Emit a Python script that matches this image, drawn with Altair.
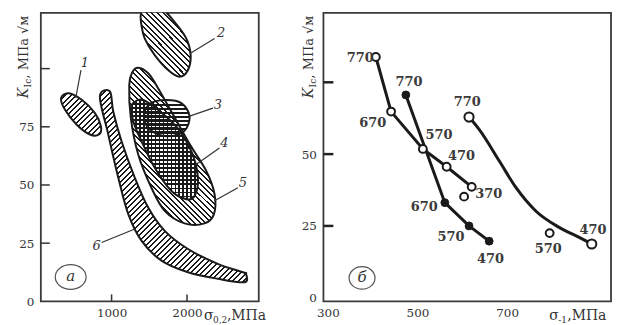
import math
import altair as alt
import pandas as pd

# ---------------- panel "а": K_Ic vs sigma_0.2 regions ----------------
S1_X = [330, 428, 604, 779, 859, 832, 713, 538, 383]
S1_Y = [87.3, 89.4, 86.6, 80.9, 75.2, 71.7, 71.7, 75.9, 82.3]

S2_X = [1387, 1440, 1661, 1836, 1991, 2048, 2013, 1902, 1749, 1572, 1440, 1396]
S2_Y = [122.9, 125.7, 125.7, 120.0, 112.9, 105.8, 99.4, 96.5, 99.4, 105.8, 112.9, 118.6]

S3_X = [1704, 1925, 2034, 1960, 1727, 1506, 1431, 1506]
S3_Y = [86.5, 85.2, 79.5, 73.1, 70.9, 73.8, 79.5, 84.8]

S4_X = [1287, 1440, 1836, 2057, 2145, 2100, 1991, 1793, 1572, 1396, 1287, 1264]
S4_Y = [85.2, 86.2, 75.9, 64.5, 53.1, 45.3, 43.9, 47.4, 57.4, 68.8, 77.4, 83.0]

S5_X = [1353, 1485, 1617, 2013, 2255, 2365, 2357, 2232, 1968, 1704, 1528, 1353, 1255, 1234, 1273]
S5_Y = [100.4, 98.0, 91.6, 68.8, 56.0, 46.0, 37.5, 33.5, 33.5, 38.9, 48.8, 63.1, 78.8, 93.0, 98.4]

S6_X = [845, 956, 1089, 1221, 1396, 1661, 2013, 2408, 2761, 2783,
        2740, 2408, 2013, 1704, 1485, 1308, 1132, 1022, 978]
S6_Y = [88.0, 71.7, 53.1, 37.5, 26.1, 17.5, 12.5, 9.7, 8.2, 11.8,
        12.5, 16.1, 22.5, 30.3, 40.3, 53.1, 68.8, 81.6, 90.2]

REGION_NAMES = ["1", "2", "3", "4", "5", "6"]
NAME_X = [647, 2453, 2409, 2496, 2740, 802]
NAME_Y = [102.3, 115.1, 84.5, 68.1, 51.0, 23.9]
LEAD_X1 = [594, 2365, 2343, 2430, 2674, 868]
LEAD_Y1 = [99.4, 112.9, 83.0, 65.9, 48.8, 25.3]
LEAD_X2 = [524, 2040, 2025, 2120, 2365, 1300]
LEAD_Y2 = [87.3, 106.5, 79.5, 58.8, 43.2, 31.0]

A_YTICK_LABELS = [0, 25, 50, 75]
A_YTICKS = [25, 50, 75, 100]
A_XTICKS = [1000, 2000]

# ---------------- panel "б": K_Ic vs sigma_-1 ----------------
L1_T = [770, 670, 570, 470, 370]
L1_S = [407, 441, 512, 565, 621]
L1_K = [83.8, 64.8, 51.8, 45.6, 38.6]

L2_T = [770, 670, 570, 470]
L2_S = [474, 561, 615, 660]
L2_K = [70.6, 33.1, 25.0, 19.7]

L3_S = [615, 638, 683, 720, 764, 816, 861, 889]
L3_K = [62.9, 58.5, 47.5, 38.3, 30.2, 24.5, 21.0, 18.7]
L3_T = [770, 470]
L3_PS = [615, 889]
L3_PK = [62.9, 18.7]

SOLO_T = [370, 570]
SOLO_S = [604, 795]
SOLO_K = [35.2, 22.5]

LAB_T = ["770", "670", "570", "470", "370", "770", "670", "570", "470", "770", "470", "570"]
LAB_S = [372, 400, 548, 598, 659, 481, 515, 575, 663, 611, 892, 792]
LAB_K = [83.3, 60.8, 56.5, 49.3, 36.2, 75.0, 31.7, 21.2, 13.5, 68.3, 23.6, 17.0]

B_YTICK_LABELS = [0, 25, 50]
B_YTICKS = [25, 50, 75]
B_XLABELS = [300, 500, 700]

# ---------------- layout / style ----------------
WA, WB, H = 219, 289, 290
XA_DOM, YA_DOM = [62, 2951], [0, 124]
XB_DOM, YB_DOM = [290, 932], [-1.25, 99.2]
SERIF = "DejaVu Serif"
INK = "#1a1a1a"
TXT = "#333333"

XA = alt.Scale(domain=XA_DOM, nice=False, zero=False)
YA = alt.Scale(domain=YA_DOM, nice=False, zero=False)
XB = alt.Scale(domain=XB_DOM, nice=False, zero=False)
YB = alt.Scale(domain=YB_DOM, nice=False, zero=False)

def lab_axis(values, pad):
    return alt.Axis(values=values, format="d", ticks=False, domain=False, grid=False, title=None,
                    labelFont=SERIF, labelFontSize=12, labelColor=TXT,
                    labelPadding=pad, labelFlush=False, labelOverlap=False)

AXA_X = lab_axis(A_XTICKS, 6)
AXA_Y = lab_axis(A_YTICK_LABELS, 7)
AXB_X = lab_axis(B_XLABELS, 6)
AXB_Y = lab_axis(B_YTICK_LABELS, 7)

def xa(f="x"):
    return alt.X(f"{f}:Q", scale=XA, axis=AXA_X)

def ya(f="y"):
    return alt.Y(f"{f}:Q", scale=YA, axis=AXA_Y)

def xb(f="x"):
    return alt.X(f"{f}:Q", scale=XB, axis=AXB_X)

def yb(f="y"):
    return alt.Y(f"{f}:Q", scale=YB, axis=AXB_Y)

KX = WA / (XA_DOM[1] - XA_DOM[0])
KY = H / (YA_DOM[1] - YA_DOM[0])


def stripes(kind, w, h, period=3.9, duty=0.36, ink=INK, paper="white"):
    r2 = math.sqrt(2)
    if kind == "h":
        x1, y1, x2, y2 = 0, 0, 0, 1
        span = h
    elif kind == "v":
        x1, y1, x2, y2 = 0, 0, 1, 0
        span = w
    elif kind == "up":
        m = max(w, h)
        gx, gy = w / m, h / m
        c = (gx + gy) / (gx * gx + gy * gy)
        x1, y1, x2, y2 = 0, 0, c * gx, c * gy
        span = (w + h) / r2
    else:
        m = max(w, h)
        gx, gy = w / m, -h / m
        c = (gx - gy) / (gx * gx + gy * gy)
        x1, y1, x2, y2 = 0, 1, c * gx, 1 + c * gy
        span = (w + h) / r2
    n = max(2, int(round(span / period)))
    stops = []
    for k in range(n):
        a, b, e = k / n, (k + duty) / n, (k + 1) / n
        stops += [alt.GradientStop(offset=a, color=ink), alt.GradientStop(offset=b, color=ink),
                  alt.GradientStop(offset=b, color=paper), alt.GradientStop(offset=e, color=paper)]
    return alt.LinearGradient(gradient="linear", stops=stops, x1=x1, y1=y1, x2=x2, y2=y2)


def region(xs, ys, hatches, clip=False):
    df = pd.DataFrame({"x": xs, "y": ys, "i": list(range(len(xs)))})
    w = (max(xs) - min(xs)) * KX
    h = (max(ys) - min(ys)) * KY
    out = []
    for kind, paper in hatches:
        out.append(alt.Chart(df).mark_line(interpolate="cardinal-closed", fill=stripes(kind, w, h, paper=paper),
                                           strokeOpacity=0, clip=clip)
                   .encode(x=xa(), y=ya(), order="i:Q"))
    out.append(alt.Chart(df).mark_line(interpolate="cardinal-closed", color=INK, strokeWidth=2, clip=clip)
               .encode(x=xa(), y=ya(), order="i:Q"))
    return out


CLEAR = "rgba(255,255,255,0)"


def ytitle(xrel):
    base = dict(angle=270, align="left", baseline="middle", font=SERIF, color=TXT)
    return [
        alt.Chart().mark_text(text="K", fontStyle="italic", fontSize=14, **base)
        .encode(x=alt.value(xrel), y=alt.value(86)),
        alt.Chart().mark_text(text="Ic", fontSize=9, **base)
        .encode(x=alt.value(xrel + 4), y=alt.value(75)),
        alt.Chart().mark_text(text=", МПа √м", fontSize=13, **base)
        .encode(x=alt.value(xrel), y=alt.value(66)),
    ]


def xtitle(x0, sub, gap):
    base = dict(align="left", baseline="middle", font=SERIF, color=TXT)
    return [
        alt.Chart().mark_text(text="σ", fontSize=14, **base).encode(x=alt.value(x0), y=alt.value(305)),
        alt.Chart().mark_text(text=sub, fontSize=9, **base).encode(x=alt.value(x0 + 9), y=alt.value(309)),
        alt.Chart().mark_text(text=",МПа", fontSize=14, **base).encode(x=alt.value(x0 + gap), y=alt.value(305)),
    ]


def badge(cx, cy, w, ratio, letter):
    path = f"M-1,0A1,{ratio},0,1,0,1,0A1,{ratio},0,1,0,-1,0Z"
    return [
        alt.Chart().mark_point(shape=path, size=w * w, filled=False, stroke="#555", strokeWidth=1.2, opacity=1)
        .encode(x=alt.value(cx), y=alt.value(cy)),
        alt.Chart().mark_text(text=letter, fontSize=15, font=SERIF, fontStyle="italic", color="#333",
                              align="center", baseline="middle")
        .encode(x=alt.value(cx), y=alt.value(cy - 1)),
    ]


# ---------- build panel а ----------
a_layers = []
a_layers += region(S6_X, S6_Y, [("up", "white")])
a_layers += region(S1_X, S1_Y, [("up", "white")])
a_layers += region(S2_X, S2_Y, [("down", "white")], clip=True)
a_layers += region(S5_X, S5_Y, [("down", "white")])
a_layers += region(S4_X, S4_Y, [("h", "white"), ("v", CLEAR)])
a_layers += region(S3_X, S3_Y, [("h", CLEAR)])

lead = pd.DataFrame({"x": LEAD_X1, "y": LEAD_Y1, "x2": LEAD_X2, "y2": LEAD_Y2})
a_layers.append(alt.Chart(lead).mark_rule(color=TXT, strokeWidth=1.2)
                .encode(x=xa(), y=ya(), x2="x2:Q", y2="y2:Q"))
names = pd.DataFrame({"x": NAME_X, "y": NAME_Y, "t": REGION_NAMES})
a_layers.append(alt.Chart(names).mark_text(font=SERIF, fontStyle="italic", fontSize=13, color=TXT)
                .encode(x=xa(), y=ya(), text="t:N"))

a_yt = pd.DataFrame({"y": A_YTICKS})
a_layers.append(alt.Chart(a_yt).mark_rule(color="#333", strokeWidth=1.5)
                .encode(y=ya(), x=alt.value(0), x2=alt.value(9)))
a_xt = pd.DataFrame({"x": A_XTICKS})
a_layers.append(alt.Chart(a_xt).mark_rule(color="#333", strokeWidth=1.5)
                .encode(x=xa(), y=alt.value(H), y2=alt.value(H - 7)))
a_layers += ytitle(-17)
a_layers += xtitle(164, "0,2", 23)
a_layers += badge(30, 265.5, 31, 0.8, "а")

panel_a = alt.layer(*a_layers).properties(width=WA, height=H)

# ---------- build panel б ----------
b_layers = []
d1 = pd.DataFrame({"x": L1_S, "y": L1_K, "t": L1_T, "i": list(range(len(L1_S)))})
d2 = pd.DataFrame({"x": L2_S, "y": L2_K, "t": L2_T, "i": list(range(len(L2_S)))})
d3 = pd.DataFrame({"x": L3_S, "y": L3_K, "i": list(range(len(L3_S)))})
d3p = pd.DataFrame({"x": L3_PS, "y": L3_PK, "t": L3_T})
ds = pd.DataFrame({"x": SOLO_S, "y": SOLO_K, "t": SOLO_T})
dl = pd.DataFrame({"x": LAB_S, "y": LAB_K, "t": LAB_T})

b_layers.append(alt.Chart(d1).mark_line(color=INK, strokeWidth=3).encode(x=xb(), y=yb(), order="i:Q"))
b_layers.append(alt.Chart(d2).mark_line(color=INK, strokeWidth=3).encode(x=xb(), y=yb(), order="i:Q"))
b_layers.append(alt.Chart(d3).mark_line(color=INK, strokeWidth=3, interpolate="monotone")
                .encode(x=xb(), y=yb(), order="i:Q"))
b_layers.append(alt.Chart(d1).mark_point(shape="circle", size=62, filled=True, fill="white", stroke=INK,
                                         strokeWidth=2, opacity=1).encode(x=xb(), y=yb()))
b_layers.append(alt.Chart(ds).mark_point(shape="circle", size=62, filled=True, fill="white", stroke=INK,
                                         strokeWidth=2, opacity=1).encode(x=xb(), y=yb()))
b_layers.append(alt.Chart(d2).mark_point(shape="circle", size=62, filled=True, fill=INK, stroke=INK,
                                         strokeWidth=1, opacity=1).encode(x=xb(), y=yb()))
b_layers.append(alt.Chart(d3p).mark_point(shape="circle", size=85, filled=True, fill="white", stroke=INK,
                                          strokeWidth=2, opacity=1).encode(x=xb(), y=yb()))
b_layers.append(alt.Chart(dl).mark_text(font=SERIF, fontWeight="bold", fontSize=13, color="#3a3a3a")
                .encode(x=xb(), y=yb(), text="t:N"))

b_yt = pd.DataFrame({"y": B_YTICKS})
b_layers.append(alt.Chart(b_yt).mark_rule(color="#222", strokeWidth=2.5)
                .encode(y=yb(), x=alt.value(0), x2=alt.value(10)))
b_layers += ytitle(-14)
b_layers += xtitle(227, "-1", 18)
b_layers += badge(38.8, 266.5, 26, 0.87, "б")

panel_b = alt.layer(*b_layers).properties(width=WB, height=H)

chart = (
    alt.hconcat(panel_a, panel_b, spacing=65, bounds="flush")
    .properties(padding={"left": 8, "top": 3, "right": 2, "bottom": 2})
    .configure_view(stroke="#3a3a3a", strokeWidth=1.8)
)

chart.save("out.html", embed_options={"renderer": "svg", "actions": False})
